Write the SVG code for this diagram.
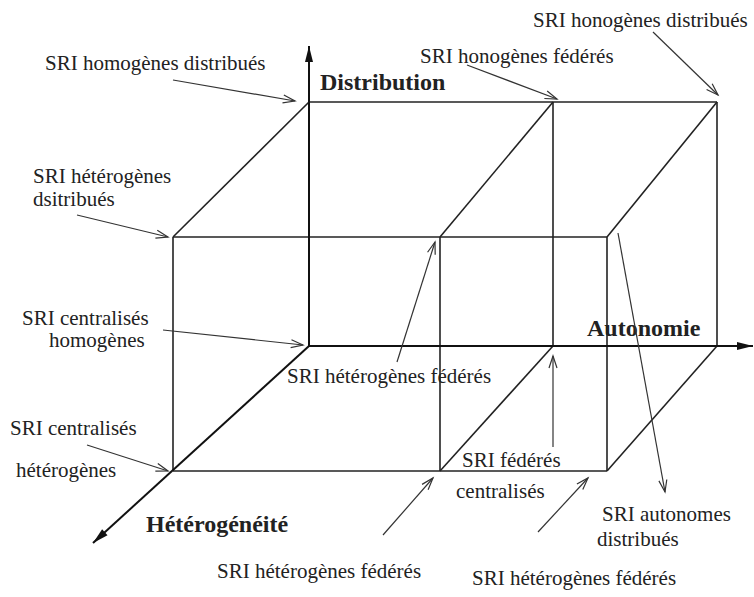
<svg xmlns="http://www.w3.org/2000/svg" width="754" height="597" viewBox="0 0 754 597">
<style>
.t{font-family:'Liberation Serif','Times New Roman','DejaVu Serif',serif;font-size:21px;fill:#222}
.b{font-family:'Liberation Serif','Times New Roman','DejaVu Serif',serif;font-size:24px;font-weight:bold;fill:#222}
.box{stroke:#222;stroke-width:1.6;fill:none}
.axis{stroke:#111;stroke-width:2;fill:none;marker-end:url(#ah)}
.lab{stroke:#333;stroke-width:1.2;fill:none;marker-end:url(#la)}
</style>
<defs>
<marker id="ah" markerUnits="userSpaceOnUse" markerWidth="18" markerHeight="10" refX="16" refY="4" orient="auto" overflow="visible">
<path d="M0,0 L16,4 L0,8 z" fill="#111"/>
</marker>
<marker id="la" markerUnits="userSpaceOnUse" markerWidth="14" markerHeight="10" refX="12" refY="4" orient="auto" overflow="visible">
<path d="M0,0 L12,4 L0,8" fill="none" stroke="#333" stroke-width="1.2"/>
</marker>
</defs>
<rect width="754" height="597" fill="#fff"/>
<g id="cube">
<line class="box" x1="309" y1="102" x2="717" y2="102"/>
<line class="box" x1="553" y1="102" x2="553" y2="346"/>
<line class="box" x1="717" y1="102" x2="717" y2="346"/>
<line class="box" x1="309" y1="102" x2="173" y2="237"/>
<line class="box" x1="553" y1="102" x2="440" y2="237"/>
<line class="box" x1="717" y1="102" x2="607" y2="237"/>
<line class="box" x1="173" y1="237" x2="607" y2="237"/>
<line class="box" x1="173" y1="237" x2="173" y2="471"/>
<line class="box" x1="173" y1="471" x2="607" y2="471"/>
<line class="box" x1="440" y1="237" x2="440" y2="471"/>
<line class="box" x1="607" y1="237" x2="607" y2="471"/>
<line class="box" x1="553" y1="346" x2="440" y2="471"/>
<line class="box" x1="717" y1="346" x2="607" y2="471"/>
</g>
<g id="axes">
<line class="axis" x1="309" y1="346" x2="309" y2="46"/>
<line class="axis" x1="309" y1="346" x2="753" y2="346"/>
<line class="axis" x1="309" y1="346" x2="93" y2="543"/>
<text class="b" x="320" y="90">Distribution</text>
<text class="b" x="587" y="336">Autonomie</text>
<text class="b" x="146" y="532">Hétérogénéité</text>
</g>
<g id="connectors">
<line class="lab" x1="173" y1="80" x2="295" y2="101"/>
<line class="lab" x1="467" y1="65" x2="557" y2="99"/>
<line class="lab" x1="653" y1="32" x2="718" y2="95"/>
<line class="lab" x1="77" y1="215" x2="168" y2="237"/>
<line class="lab" x1="163" y1="330" x2="303" y2="345"/>
<line class="lab" x1="87" y1="445" x2="168" y2="471"/>
<line class="lab" x1="397" y1="362" x2="435" y2="242"/>
<line class="lab" x1="553" y1="447" x2="553" y2="356"/>
<line class="lab" x1="618" y1="233" x2="665" y2="492"/>
<line class="lab" x1="383" y1="535" x2="433" y2="478"/>
<line class="lab" x1="538" y1="532" x2="588" y2="478"/>
</g>
<g id="label-homo-distrib"><text class="t" x="45" y="70">SRI homogènes distribués</text></g>
<g id="label-hono-federes"><text class="t" x="420" y="63">SRI honogènes fédérés</text></g>
<g id="label-hono-distrib"><text class="t" x="533" y="27">SRI honogènes distribués</text></g>
<g id="label-hetero-distrib"><text class="t" x="33" y="183">SRI hétérogènes</text><text class="t" x="33" y="206">dsitribués</text></g>
<g id="label-central-homo"><text class="t" x="22" y="325">SRI centralisés</text><text class="t" x="49" y="347">homogènes</text></g>
<g id="label-central-hetero"><text class="t" x="10" y="435">SRI centralisés</text><text class="t" x="16" y="477">hétérogènes</text></g>
<g id="label-hetero-fed-mid"><text class="t" x="287" y="383">SRI hétérogènes fédérés</text></g>
<g id="label-fed-central"><text class="t" x="462" y="467">SRI fédérés</text><text class="t" x="456" y="498">centralisés</text></g>
<g id="label-auto-distrib"><text class="t" x="602" y="521">SRI autonomes</text><text class="t" x="597" y="546">distribués</text></g>
<g id="label-hetero-fed-bl"><text class="t" x="217" y="578">SRI hétérogènes fédérés</text></g>
<g id="label-hetero-fed-br"><text class="t" x="472" y="585">SRI hétérogènes fédérés</text></g>
</svg>
